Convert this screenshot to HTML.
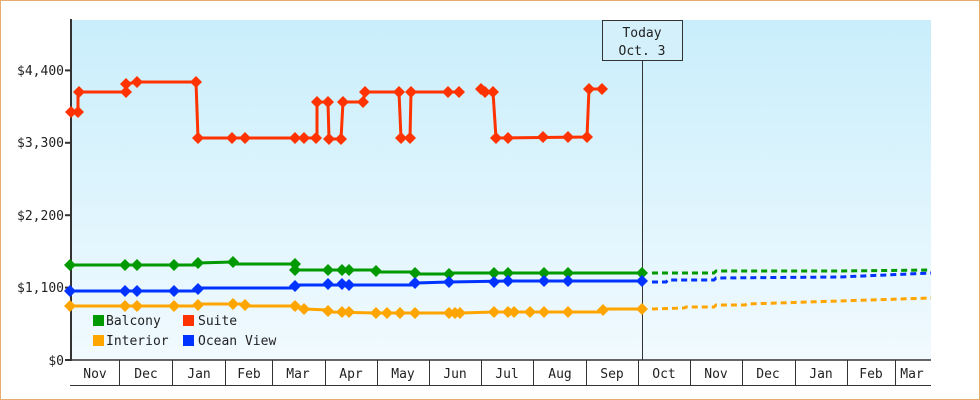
<!DOCTYPE html>
<html><head><meta charset="utf-8"><style>
html,body{margin:0;padding:0;background:#fff}
svg{display:block}
text{font-family:"DejaVu Sans Mono","Liberation Mono",monospace;font-size:13px;fill:#222}
</style></head><body>
<svg width="980" height="400" viewBox="0 0 980 400">
<defs>
<linearGradient id="bg" x1="0" y1="0" x2="0" y2="1"><stop offset="0" stop-color="#c9eefb"/><stop offset="1" stop-color="#f1faff"/></linearGradient>
<symbol id="d" viewBox="-5 -5 10 10" overflow="visible"><polygon points="0,-6 6,0 0,6 -6,0"/></symbol>
</defs>
<rect x="0.5" y="0.5" width="979" height="399" fill="#fff" stroke="#e8ac6c"/>
<rect x="71" y="20" width="860" height="340" fill="url(#bg)"/>
<line x1="642.5" y1="60" x2="642.5" y2="360" stroke="#333"/>
<rect x="602.5" y="20.5" width="80" height="40" fill="#d4f1fb" stroke="#333"/>
<text x="642" y="37" text-anchor="middle">Today</text>
<text x="642" y="55" text-anchor="middle">Oct. 3</text>
<line x1="71" y1="19" x2="71" y2="361" stroke="#333" stroke-width="2"/>
<g stroke="#333" stroke-width="2">
<line x1="65" y1="360" x2="71" y2="360"/><line x1="65" y1="287.6" x2="71" y2="287.6"/><line x1="65" y1="215.2" x2="71" y2="215.2"/><line x1="65" y1="142.8" x2="71" y2="142.8"/><line x1="65" y1="70.4" x2="71" y2="70.4"/>
</g>
<g text-anchor="end">
<text x="64" y="365">$0</text><text x="64" y="292">$1,100</text><text x="64" y="220">$2,200</text><text x="64" y="147">$3,300</text><text x="64" y="75">$4,400</text>
</g>
<line x1="70" y1="360" x2="931" y2="360" stroke="#333" stroke-width="1.5"/>
<line x1="70" y1="385.5" x2="931" y2="385.5" stroke="#333"/>
<g stroke="#333">
<line x1="119.5" y1="360" x2="119.5" y2="385"/><line x1="172.5" y1="360" x2="172.5" y2="385"/><line x1="225.5" y1="360" x2="225.5" y2="385"/><line x1="272.5" y1="360" x2="272.5" y2="385"/><line x1="325.5" y1="360" x2="325.5" y2="385"/><line x1="377.5" y1="360" x2="377.5" y2="385"/><line x1="429.5" y1="360" x2="429.5" y2="385"/><line x1="481.5" y1="360" x2="481.5" y2="385"/><line x1="533.5" y1="360" x2="533.5" y2="385"/><line x1="586.5" y1="360" x2="586.5" y2="385"/><line x1="638.5" y1="360" x2="638.5" y2="385"/><line x1="690.5" y1="360" x2="690.5" y2="385"/><line x1="742.5" y1="360" x2="742.5" y2="385"/><line x1="795.5" y1="360" x2="795.5" y2="385"/><line x1="847.5" y1="360" x2="847.5" y2="385"/><line x1="895.5" y1="360" x2="895.5" y2="385"/>
</g>
<g text-anchor="middle">
<text x="95" y="378">Nov</text><text x="146" y="378">Dec</text><text x="199" y="378">Jan</text><text x="249" y="378">Feb</text><text x="298" y="378">Mar</text><text x="351" y="378">Apr</text><text x="403" y="378">May</text><text x="455" y="378">Jun</text><text x="507" y="378">Jul</text><text x="560" y="378">Aug</text><text x="612" y="378">Sep</text><text x="664" y="378">Oct</text><text x="716" y="378">Nov</text><text x="768" y="378">Dec</text><text x="821" y="378">Jan</text><text x="871" y="378">Feb</text><text x="912" y="378">Mar</text>
</g>
<g fill="none" stroke-width="3" stroke-dasharray="6,4">
<polyline stroke="#009900" points="652,273 714,273 716,271 840,271 931,270"/>
<polyline stroke="#0033ff" points="652,282 666,282 668,280 714,280 716,278 840,277 931,273"/>
<polyline stroke="#ffa500" points="652,309 684,308 686,307 714,307 716,305 745,305 747,304 931,298"/>
</g>
<g fill="none" stroke="#ff3300" stroke-width="3">
<polyline points="70,112 78,112 78,92 125,92 126,84 137,82 196,82 198,138 317,138 317,102 328,102 329,139 341,139 343,102 363,102 365,92 399,92 401,138 410,138 411,92 459,92"/>
<polyline points="481,89 485,92 493,92 496,138 587,137 589,89 602,89"/>
</g>
<g fill="#ff3300">
<use href="#d" x="66" y="107" width="10" height="10"/><use href="#d" x="73" y="107" width="10" height="10"/><use href="#d" x="74" y="87" width="10" height="10"/><use href="#d" x="121" y="87" width="10" height="10"/><use href="#d" x="121" y="79" width="10" height="10"/><use href="#d" x="132" y="77" width="10" height="10"/><use href="#d" x="191" y="77" width="10" height="10"/><use href="#d" x="193" y="133" width="10" height="10"/><use href="#d" x="227" y="133" width="10" height="10"/><use href="#d" x="240" y="133" width="10" height="10"/><use href="#d" x="290" y="133" width="10" height="10"/><use href="#d" x="299" y="133" width="10" height="10"/><use href="#d" x="311" y="133" width="10" height="10"/><use href="#d" x="312" y="97" width="10" height="10"/><use href="#d" x="323" y="97" width="10" height="10"/><use href="#d" x="324" y="134" width="10" height="10"/><use href="#d" x="336" y="134" width="10" height="10"/><use href="#d" x="338" y="97" width="10" height="10"/><use href="#d" x="358" y="97" width="10" height="10"/><use href="#d" x="360" y="87" width="10" height="10"/><use href="#d" x="394" y="87" width="10" height="10"/><use href="#d" x="396" y="133" width="10" height="10"/><use href="#d" x="405" y="133" width="10" height="10"/><use href="#d" x="406" y="87" width="10" height="10"/><use href="#d" x="443" y="87" width="10" height="10"/><use href="#d" x="454" y="87" width="10" height="10"/><use href="#d" x="476" y="84" width="10" height="10"/><use href="#d" x="480" y="87" width="10" height="10"/><use href="#d" x="488" y="87" width="10" height="10"/><use href="#d" x="491" y="133" width="10" height="10"/><use href="#d" x="503" y="133" width="10" height="10"/><use href="#d" x="538" y="132" width="10" height="10"/><use href="#d" x="563" y="132" width="10" height="10"/><use href="#d" x="582" y="132" width="10" height="10"/><use href="#d" x="584" y="84" width="10" height="10"/><use href="#d" x="597" y="84" width="10" height="10"/>
</g>
<polyline fill="none" stroke="#009900" stroke-width="3" points="70,265 197,265 198,263 232,262 234,264 295,264 296,270 376,270 377,272 415,272 416,274 449,274 450,273 642,273"/>
<g fill="#009900">
<use href="#d" x="65" y="260" width="10" height="10"/><use href="#d" x="120" y="260" width="10" height="10"/><use href="#d" x="132" y="260" width="10" height="10"/><use href="#d" x="169" y="260" width="10" height="10"/><use href="#d" x="193" y="258" width="10" height="10"/><use href="#d" x="228" y="257" width="10" height="10"/><use href="#d" x="290" y="259" width="10" height="10"/><use href="#d" x="290" y="265" width="10" height="10"/><use href="#d" x="323" y="265" width="10" height="10"/><use href="#d" x="337" y="265" width="10" height="10"/><use href="#d" x="344" y="265" width="10" height="10"/><use href="#d" x="371" y="266" width="10" height="10"/><use href="#d" x="410" y="268" width="10" height="10"/><use href="#d" x="444" y="269" width="10" height="10"/><use href="#d" x="489" y="268" width="10" height="10"/><use href="#d" x="503" y="268" width="10" height="10"/><use href="#d" x="539" y="268" width="10" height="10"/><use href="#d" x="563" y="268" width="10" height="10"/><use href="#d" x="637" y="268" width="10" height="10"/>
</g>
<polyline fill="none" stroke="#0033ff" stroke-width="3" points="70,291 197,291 198,288 295,288 296,285 415,285 416,283 449,282 508,281 642,281"/>
<g fill="#0033ff">
<use href="#d" x="65" y="286" width="10" height="10"/><use href="#d" x="120" y="286" width="10" height="10"/><use href="#d" x="132" y="286" width="10" height="10"/><use href="#d" x="169" y="286" width="10" height="10"/><use href="#d" x="193" y="284" width="10" height="10"/><use href="#d" x="290" y="281" width="10" height="10"/><use href="#d" x="323" y="279" width="10" height="10"/><use href="#d" x="337" y="279" width="10" height="10"/><use href="#d" x="344" y="280" width="10" height="10"/><use href="#d" x="410" y="278" width="10" height="10"/><use href="#d" x="444" y="277" width="10" height="10"/><use href="#d" x="489" y="277" width="10" height="10"/><use href="#d" x="503" y="276" width="10" height="10"/><use href="#d" x="539" y="276" width="10" height="10"/><use href="#d" x="563" y="276" width="10" height="10"/><use href="#d" x="637" y="276" width="10" height="10"/>
</g>
<polyline fill="none" stroke="#ffa500" stroke-width="3" points="70,306 197,306 198,304 245,304 246,306 295,306 304,309 328,310 330,312 376,313 460,313 494,312 602,312 604,309 642,309"/>
<g fill="#ffa500">
<use href="#d" x="65" y="301" width="10" height="10"/><use href="#d" x="120" y="301" width="10" height="10"/><use href="#d" x="132" y="301" width="10" height="10"/><use href="#d" x="169" y="301" width="10" height="10"/><use href="#d" x="193" y="300" width="10" height="10"/><use href="#d" x="228" y="299" width="10" height="10"/><use href="#d" x="240" y="300" width="10" height="10"/><use href="#d" x="290" y="301" width="10" height="10"/><use href="#d" x="299" y="304" width="10" height="10"/><use href="#d" x="323" y="306" width="10" height="10"/><use href="#d" x="337" y="307" width="10" height="10"/><use href="#d" x="344" y="307" width="10" height="10"/><use href="#d" x="371" y="308" width="10" height="10"/><use href="#d" x="382" y="308" width="10" height="10"/><use href="#d" x="395" y="308" width="10" height="10"/><use href="#d" x="410" y="308" width="10" height="10"/><use href="#d" x="444" y="308" width="10" height="10"/><use href="#d" x="450" y="308" width="10" height="10"/><use href="#d" x="455" y="308" width="10" height="10"/><use href="#d" x="489" y="307" width="10" height="10"/><use href="#d" x="503" y="307" width="10" height="10"/><use href="#d" x="509" y="307" width="10" height="10"/><use href="#d" x="525" y="307" width="10" height="10"/><use href="#d" x="539" y="307" width="10" height="10"/><use href="#d" x="563" y="307" width="10" height="10"/><use href="#d" x="598" y="305" width="10" height="10"/><use href="#d" x="637" y="304" width="10" height="10"/>
</g>
<rect x="93" y="315" width="11" height="11" fill="#009900"/><text x="106" y="325">Balcony</text>
<rect x="183" y="315" width="11" height="11" fill="#ff3300"/><text x="198" y="325">Suite</text>
<rect x="93" y="335" width="11" height="11" fill="#ffa500"/><text x="106" y="345">Interior</text>
<rect x="183" y="335" width="11" height="11" fill="#0033ff"/><text x="198" y="345">Ocean View</text>
</svg>
</body></html>
